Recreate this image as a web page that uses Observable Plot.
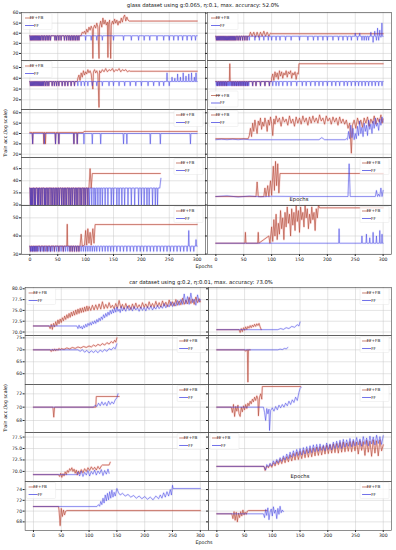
<!DOCTYPE html>
<html><head><meta charset="utf-8">
<script src="https://cdn.jsdelivr.net/npm/d3@7"></script>
<script src="https://cdn.jsdelivr.net/npm/@observablehq/plot@0.6"></script>
<style>
body{margin:0;background:#fff;}
#root{position:relative;width:396px;height:550px;overflow:hidden;font-family:"DejaVu Sans",sans-serif;background:#fff;}
.lbl{position:absolute;color:#111;white-space:nowrap;transform:translate(-50%,-50%);line-height:1;}
</style></head><body><div id="root"></div>
<script>
// ---------- text ----------
const glassTitle = "glass dataset using g:0.065, η:0.1, max. accuracy: 52.0%";
const carTitle = "car dataset using g:0.2, η:0.01, max. accuracy: 73.0%";
const yAxisLabel = "Train acc.(log scale)";
const xAxisLabel = "Epochs";
const seriesNames = ["FF+FB", "FF"];
const epochTicks = [0, 50, 100, 150, 200, 250, 300];

// ---------- y ticks ----------
const glassYTicks1 = [20, 30, 40, 50, 60];
const glassYTicks2 = [20, 30, 40, 50];
const glassYTicks3 = [20, 30, 40, 50, 60];
const glassYTicks4 = [30, 35, 40, 45];
const glassYTicks5 = [30, 40, 50];
const carYTicks1 = [70, 72.5, 75, 77.5, 80];
const carYTicks2 = [60, 65, 70, 75];
const carYTicks3 = [68, 70, 72];
const carYTicks4 = [70, 72.5, 75, 77.5];
const carYTicks5 = [68, 70, 72, 74];

// ---------- glass data (spike lists: epoch,value ; point lists: epoch,value) ----------
const g1L_ff_spk = [1,33,3,33,5,33,7,33,9,33,11,33,13,33,15,33,17,33,19,33,22,33,25,33,28,33,31,33,34,33,37,33,45,33,48,33,52,33,56,33,62,33,66,33,70,33,73,33,76,33,79,33,82,33,85,33,88,33,100,33,110,33,120,33,130,33,150,33,168,33,182,33,195,33,205,33,215,33,228,33,240,33,250,33,258,33,266,33,274,33,282,33,290,33,297,33];
const g1L_ffb_pts = [92,38,94,41,96,40,98,42,100,39,102,44,104,41,106,46,108,43,110,47,112,44,113,15,114,45,116,48,118,45,120,50,122,46,124,15,125,47,127,52,129,46,131,55,133,49,135,53,137,48,139,51,140,16,141,49,143,53,145,15,146,48,148,52,150,49,152,54,154,50,156,53,158,48,160,52,162,50,164,55,166,51,168,56,170,58,172,52,174,56,176,53,178,52,300,52];

const g1R_ff_spk = [1,33,3,33,5,33,7,33,9,33,11,33,13,33,15,33,17,33,19,33,21,33,23,33,25,33,27,33,29,33,31,33,33,33,35,33,38,33,41,33,44,33,48,33,52,33,56,33,60,33,70,33,78,33,86,33,94,33,100,33,108,33,115,33,125,33,135,33,150,33,165,33,175,33,183,33,192,33,200,33,210,33,220,33,228,33,236,33,243,33,250,40,254,33,258,40,262,33,266,33,270,33,274,33,278,41,282,31,285,42,288,33,290,45,292,33,294,43,296,36,297.8,50];
const g1R_ffb_pts = [60,37,62,41,65,37,68,41,71,36,74,41,77,36,80,41,83,37,86,42,89,37,92,41,95,37,98,40,100,39.5,300,39.5];

const g2L_ff_spk = [1,33,3,33,5,33,7,33,9,33,11,33,13,33,15,33,17,33,19,33,21,33,23,33,25,33,28,33,31,33,34,33,40,33,44,33,48,33,52,33,58,33,63,33,68,33,74,33,80,33,86,33,92,33,98,33,104,33,112,33,120,33,130,33,142,33,150,33,160,33,170,33,180,33,190,33,200,33,212,33,222,33,232,33,240,33,246,45,250,33,255,41,260,40,265,44,270,41,275,45,280,42,285,44,290,45,295,41,298,45];
const g2L_ffb_pts = [85,37,86,40,88,43,90,38,92,45,94,41,96,47,98,43,100,46,102,44,104,48,106,45,108,47,110,44,113,30,114,46,116,48,118,45,120,47,122,44,124,13,125,47,127,45,130,48,133,46,136,49,139,46,142,48,145,47,148,49,151,46,154,48,157,47,160,49,163,46,166,48,169,47,172,48,175,46,178,47,180,46.5,300,46.5];

const g2R_ff_spk = [1,33,3,33,5,33,7,33,9,33,11,33,13,33,15,33,17,33,19,33,21,33,23,33,25,33,27,33,29,33,31,33,33,33,35,33,37,33,39,33,41,33,43,33,45,33,47,33,49,33,51,33,53,33,55,33,57,33,59,33,66,33,72,33,80,33,88,33,96,33,102,33,108,33,113,33,120,33,128,33,135,33,145,33,155,33,162,33,170,33,178,33,185,33,192,33,200,33,208,33,215,33,222,33,230,33,236,33,243,33,250,33,256,33,262,33,268,33,274,33,280,33,286,33,292,33,298,33];
const g2R_ffb_spk = [3,33,7,33,11,33,15,33,19,33,25,53.5,29,33,33,33,37,33,41,33,45,33,49,33,53,33,57,33,66,33,72,33,80,33,88,33,96,33];
const g2R_ffb_pts = [100,40,102,44,104,38,106,46,108,41,110,45,112,39,114,47,116,42,118,46,120,40,122,45,124,43,126,47,128,41,130,46,132,44,134,47,136,40,138,45,140,43,142,46,144,39,146,45,148,44,149,53.5,300,53.5];

const g3L_ff_spk = [5,30,26,30,46,30,52,30,79,30,85,30,97,30,112,30,127,30,168,30,174,30,216,30,234,30,288,30];
const g3L_ffb_spk = [5,30,25,30,28,30,46,30,52,30,79,30,85,30];
const g3L_ffb_pts = [96,41,97,42,300,42];

const g3R_ff_pts = [0,34,10,34.5,20,34,30,34.5,40,34,50,34.5,60,34,100,34,150,34,185,34,190,36,195,34,232,34,234,35,236,34,238,42,240,35,242,48,244,36,246,45,248,34,250,40,252,35,254,47,256,38,258,52,260,40,262,46,264,37,266,50,268,42,270,48,272,38,274,53,276,44,278,49,280,40,282,52,284,45,286,55,288,47,290,50,292,43,294,54,296,48,298,56,300,51];
const g3R_ffb_pts = [0,35,58,35,60,38,62,45,64,37,66,50,68,42,70,53,72,46,74,40,76,52,78,48,80,55,82,44,84,51,86,47,88,55,90,50,92,42,94,53,96,48,98,56,100,50,102,38,104,54,106,49,108,57,111,51,114,55,117,47,120,56,123,51,126,54,129,48,132,57,135,50,138,54,141,47,144,56,147,50,150,55,153,49,156,57,159,51,162,55,165,48,168,56,171,50,174,57,177,51,180,55,183,50,186,58,189,52,192,55,195,49,198,57,201,52,204,55,207,49,210,56,213,51,216,55,219,48,222,56,225,50,228,54,231,49,234,53,237,45,240,50,243,21,245,48,248,53,251,45,254,55,257,49,260,53,263,46,266,55,269,50,272,56,275,47,278,54,281,50,284,57,287,49,290,55,293,51,296,58,298,50,300,54];

const g4L_ff_spk = [1,30,3,30,5,30,8,30,10,30,14,30,16,30,19,30,22,30,26,30,28,30,31,30,34,30,38,30,41,30,44,30,47,30,50,30,53,30,57,30,60,30,63,30,66,30,70,30,73,30,76,30,80,30,83,30,86,30,90,30,93,30,97,30,100,30,104,30,107,30,111,30,115,30,118,30,122,30,126,30,130,30,135,30,140,30,146,30,150,30,156,30,160,30,165,30,170,30,176,30,182,30,188,30,195,30,200,30,205,30,210,30,214,30,220,30,225,30,229,30];
const g4L_ff_end = [233,37,235,41];
const g4L_ffb_pts = [106,37,108,45,110,37,112,43,234,43];

const g4R_ff_pts = [0,33.5,20,33.8,40,33.3,60,33.7,80,33.4,100,33.6,150,33.5,237,33.5,239,47,241,33.5,286,33.5,288,36,290,33.5,292,34.5,294,33.5,296,37,298,33.5,300,36];
const g4R_ffb_pts = [0,33.5,72,33.5,74,39.5,76,33.5,86,33.5,88,37,90,33.5,93,38,95,33.5,98,40,100,34,103,46,105,36,107,48,109,38,111,47,113,35,115,43,300,43];

const g5L_ff_spk = [1,31.5,3,31.5,5,31.5,7,31.5,9,31.5,11,31.5,13,31.5,16,31.5,19,31.5,22,31.5,25,31.5,28,31.5,31,31.5,34,31.5,37,31.5,40,31.5,44,31.5,48,31.5,52,31.5,56,31.5,60,31.5,64,31.5,68,31.5,72,31.5,76,31.5,80,31.5,84,31.5,88,31.5,92,31.5,96,31.5,100,31.5,104,31.5,108,31.5,112,31.5,116,31.5,120,31.5,125,31.5,130,31.5,135,31.5,140,31.5,145,31.5,150,31.5,156,31.5,162,31.5,168,31.5,174,31.5,180,31.5,186,31.5,192,31.5,198,31.5,204,31.5,210,31.5,216,31.5,222,31.5,228,31.5,234,31.5,240,31.5,246,31.5,252,31.5,258,31.5,264,31.5,270,31.5,276,31.5,282,31.5,285,43,288,31.5,294,31.5,298,38];
const g5L_ffb_spk = [1,31.5,5,31.5,9,31.5,13,31.5,19,31.5,25,31.5,31,31.5,37,31.5,44,31.5,52,31.5,60,31.5,67,46.5,72,31.5,76,31.5,80,31.5,84,31.5,88,31.5];
const g5L_ffb_pts = [90,34.4,92,41,94,34.4,98,35,100,43,102,35,104,44,106,36,108,42,110,35,113,44,115,36,117,46.3,300,46.3];

const g5R_ff_spk = [221,44,262,40,270,41,276,39,282,42,288,40,294,43,298,41];
const g5R_ffb_pts = [0,36,52,36,53,42,54,36,75,36,76,42,77,36,95,40,97,36,100,45,102,37,104,49,106,40,108,52,110,38,112,47,114,41,116,54,118,44,120,50,122,38,124,53,126,45,128,56,130,47,132,52,134,40,136,55,138,46,140,53,142,43,144,57,146,48,148,54,150,42,152,56,154,49,156,53,158,45,160,57,162,50,164,55,166,44,168,52,170,47,172,56,174,49,176,53,178,43,180,55,182,50,184,57,186,55.5,300,55.5];

// ---------- car data ----------
const c1L_ffb = [0,71.4,28,71.4,30,70.8,32,71.8,34,70.6,36,72.0,38,71.2,40,72.4,42,71.5,44,72.8,46,71.9,48,73.0,50,72.2,52,73.3,54,72.6,56,73.7,58,72.9,60,74.0,62,73.2,64,74.3,66,73.4,68,74.6,70,73.7,72,74.8,74,73.9,76,75.1,78,74.1,80,75.3,82,74.3,84,75.5,86,74.5,88,75.6,90,74.6,92,75.8,94,74.8,96,76.0,98,74.9,100,75.9,103,75.0,106,76.2,109,75.1,112,76.3,115,75.2,118,76.5,121,75.3,124,77.0,127,75.4,130,76.4,133,75.5,136,76.8,139,75.6,142,76.2,145,75.4,148,76.6,151,75.5,154,77.3,157,75.6,160,76.4,163,75.3,166,76.6,169,75.5,172,76.2,175,75.2,178,76.5,181,75.4,184,76.7,187,75.6,190,76.3,193,75.5,196,76.8,199,75.7,202,76.5,205,75.6,208,77.0,211,75.8,214,76.6,217,75.7,220,77.1,223,75.9,226,76.8,229,75.8,232,77.2,235,76.0,238,76.9,241,75.9,244,77.4,247,76.1,250,77.0,253,76.0,256,77.5,259,76.2,262,77.2,265,76.3,268,77.8,271,76.4,274,77.4,277,76.5,280,78.0,283,76.6,286,77.6,289,76.4,292,78.1,295,76.8,298,77.7,300,77.0];
const c1L_ff = [0,71.4,78,71.4,80,70.8,82,71.6,84,70.9,86,71.3,88,70.7,90,71.5,92,71.0,94,71.8,96,71.2,98,72.0,100,71.5,102,72.2,104,71.6,106,72.4,108,71.9,110,72.6,112,72.0,114,72.9,116,72.3,118,73.2,120,72.6,122,73.5,124,72.9,126,74.0,128,73.3,130,74.3,132,73.6,134,74.6,136,73.9,138,75.0,140,74.2,142,75.2,144,74.4,146,75.5,148,74.6,150,75.8,152,74.8,154,75.3,156,74.5,158,75.9,160,74.9,163,75.6,166,74.8,169,76.0,172,75.0,175,75.7,178,74.9,181,75.9,184,75.1,187,75.6,190,74.8,193,75.8,196,75.0,199,75.7,202,74.9,205,75.9,208,75.2,211,76.0,214,75.1,217,75.8,220,75.3,223,76.2,226,75.4,229,76.0,232,75.5,235,76.6,238,75.6,241,76.3,244,75.8,247,77.0,250,75.9,253,76.8,256,76.0,259,77.3,262,76.2,265,77.5,268,76.4,271,78.8,274,76.5,277,78.2,280,76.4,283,79.0,286,76.8,289,77.6,292,76.2,295,78.6,298,76.9,300,77.5];
const c1R_ffb = [0,70.55,40,70.55,42,69.9,44,70.8,46,70.1,48,71.0,50,70.4,52,71.2,54,70.6,56,71.3,58,70.9,60,71.5,62,71.0,64,71.6,66,71.2,68,71.8,70,71.3,72,71.9,74,71.5,76,72.0,78,71.2,80,70.55];
const c1R_ff = [0,70.55,110,70.55,115,70.8,120,70.6,125,71.0,130,70.8,135,71.3,140,71.1,145,71.7,148,71.4,150,72.3];
const c2L_ffb = [0,70,30,70,32,69.3,34,70.2,36,69.5,38,70.4,40,69.6,42,70.3,44,69.8,46,70.6,48,70.0,50,70.5,55,70.2,60,70.8,65,70.4,70,71.0,75,70.6,80,71.2,85,70.8,90,71.4,95,71.0,100,71.6,104,71.2,108,72.0,112,71.5,116,72.3,120,71.8,124,72.6,128,72.0,132,73.0,136,72.4,140,73.5,143,72.8,146,74.0,148,73.2,150,75.0];
const c2L_ff = [0,70,80,70,84,69.4,88,70.1,92,69.0,96,69.8,100,68.7,104,69.6,108,68.9,112,69.7,116,68.8,120,69.9,124,69.2,128,70.1,132,69.4,136,70.5,140,70.0,144,71.0,147,70.4,150,72.5];
const c2R_ffb = [0,70,50,70,52,69.4,54,70,55,70,56,56.5,57,70,60,70];
const c2R_ff = [0,70,110,70,114,70.3,118,70.1,122,70.6,125,70.4,128,71.0];
const c3L_ffb = [0,70,35,70,36.5,68.5,38,70,112,70,113,71.6,154,71.6];
const c3L_ff = [0,70,108,70,111,70.3,114,70.1,117,70.6,120,70.2,123,70.8,126,70.3,129,70.7,132,70.2,135,70.9,138,70.4,141,70.8,144,70.5,147,71.1,150,71.4,152,72.0];
const c3R_ffb = [0,70,26,70,28,69.2,30,70.4,32,68.6,34,70.1,36,69.4,38,70.3,40,69.0,42,68.6,44,70.0,46,69.3,48,70.2,50,69.6,52,70.4,54,69.8,56,70.6,58,70.2,60,70.9,62,70.5,64,71.2,66,70.8,68,71.5,70,71.0,72,71.7,74,71.2,75,68.7,77,71.5,79,72.0,81,71.2,82,73.1,151,73.1];
const c3R_ff = [0,70,84,70,86,69.2,88,68.0,90,69.8,92,69.0,94,69.7,95,66.5,97,69.5,100,69.9,103,69.4,106,70.1,109,69.6,112,70.3,115,69.9,118,70.4,121,70.0,124,70.6,127,70.2,130,70.9,133,70.4,136,71.1,139,70.7,142,71.5,145,71.0,148,72.2,150,72.8,152,73.0];
const c4L_ffb = [0,69.3,45,69.3,47,68.9,49,69.6,51,68.7,53,69.5,55,69.0,57,69.9,59,69.3,61,70.2,63,69.8,65,70.6,67,70.2,69,70.8,71,70.0,73,70.5,75,69.6,77,70.3,79,69.2,81,70.1,83,69.5,86,70.4,89,69.7,92,70.6,95,70.0,98,70.8,101,70.2,104,71.0,107,70.4,110,70.9,113,70.3,116,71.1,119,70.5,122,71.2,124,71.4,136,71.4,138,72.0];
const c4L_ff = [0,69.3,78,69.3,80,69.9,83,69.0,86,70.1,89,68.9,92,69.8,95,69.2,98,70.2,101,69.0,104,70.0,107,69.4,110,70.3,113,69.2,116,70.1,119,69.5,122,70.4,125,69.1,128,70.2,131,69.4,134,70.5,136,69.6];
const c4R_ffb = [0,71.1,85,71.1,87,70.2,90,71.2,93,70.8,96,71.5,99,70.9,102,71.9,105,71.2,108,72.3,111,71.5,114,72.6,117,71.7,120,73.0,123,71.9,126,73.2,129,72.1,132,73.6,135,72.3,138,73.9,141,72.5,144,74.2,147,72.6,150,74.4,153,72.8,156,74.6,159,73.0,162,74.8,165,73.1,168,75.0,171,73.2,174,75.1,177,73.4,180,75.3,183,73.5,186,75.4,189,73.6,192,75.5,195,73.8,198,75.7,201,73.9,204,75.8,207,74.0,210,76.0,213,74.1,216,76.1,219,74.0,222,76.3,225,74.2,228,76.4,231,74.3,234,76.2,237,74.4,240,76.5,243,74.3,246,76.6,249,74.5,252,76.4,255,73.8,258,76.7,261,74.6,264,76.5,267,73.5,270,76.8,273,74.2,276,76.6,279,73.3,282,76.9,285,74.0,288,76.7,291,73.4,294,76.9,297,74.5,300,75.8];
const c4R_ff = [0,71.1,85,71.1,88,70.3,90,71.5,93,71.0,96,71.8,99,71.2,102,72.3,105,71.6,108,72.6,111,71.9,114,73.0,117,72.2,120,73.4,123,72.5,126,73.8,129,72.8,132,74.2,135,73.1,138,74.5,141,73.3,144,74.8,147,73.5,150,75.0,153,73.6,156,75.2,159,73.8,162,75.4,165,74.0,168,75.6,171,74.1,174,75.8,177,74.3,180,75.9,183,74.4,186,76.0,189,74.6,192,75.8,195,74.5,198,76.2,201,74.8,204,76.0,207,74.7,210,76.4,213,75.0,216,76.6,219,75.2,222,76.8,225,75.0,228,77.0,231,75.3,234,76.9,237,75.5,240,77.2,243,75.4,246,77.0,249,75.6,252,77.4,255,75.8,258,77.1,261,75.5,264,77.6,267,75.9,270,77.3,273,75.6,276,77.7,279,76.0,282,77.5,285,75.8,288,77.9,291,76.1,294,77.6,297,75.9,300,77.8];
const c5L_ffb = [0,70.85,45,70.85,46,70.2,48,67.3,50,70.5,52,69.0,54,70.2,56,69.3,58,70.0,60,70.1,300,70.1];
const c5L_ff = [0,70.85,114,70.85,117,71.2,119,70.9,121,71.8,123,71.2,125,72.4,127,71.5,129,73.0,131,71.9,133,73.3,135,72.1,137,73.6,139,72.4,141,73.9,143,72.6,145,73.5,147,72.8,150,74.2,153,73.4,156,73.0,160,73.3,165,72.8,170,73.1,175,72.6,180,72.9,185,72.4,190,72.8,195,72.3,200,72.7,205,72.2,210,72.6,215,72.1,220,72.8,225,72.3,228,73.0,231,72.4,234,73.4,237,72.6,240,73.6,243,72.8,246,74.0,248,73.0,250,74.8,251,74.2,300,74.2];
const c5R_ffb = [0,69.5,27,69.5,29,68.6,31,69.9,33,68.3,35,69.8,37,68.0,39,69.6,41,68.8,43,69.9,45,69.1,47,70.2,49,69.3,51,69.8,53,69.4,55,70.0,57,70.1,90,70.1];
const c5R_ff = [0,69.5,84,69.5,86,68.8,88,70.3,90,69.2,92,70.6,94,68.4,96,69.8,98,70.4,100,69.1,102,70.8,104,69.6,106,70.2,108,68.6,110,70.5,112,69.4,114,70.9,116,69.7,118,70.2,120,69.9];

// ---------- builders ----------
function pairs(a) { const p = []; for (let i = 0; i < a.length; i += 2) p.push({x: a[i], y: a[i + 1]}); return p; }
function spiky(base, start, end, spk) {
  const p = [{x: start, y: base}];
  for (let i = 0; i < spk.length; i += 2) {
    const e = spk[i], v = spk[i + 1];
    if (e <= start || e >= end) continue;
    p.push({x: e - 0.8, y: base}, {x: e, y: v}, {x: e + 0.8, y: base});
  }
  p.push({x: end, y: base});
  return p;
}

const int = d => String(d);
const one = d3.format(".1f");

const glassPanels = [
  [{ffb: spiky(37.5,0,92,g1L_ff_spk).concat(pairs(g1L_ffb_pts)), ff: spiky(37.5,0,300,g1L_ff_spk), leg:"ul"},
   {ffb: spiky(37,0,60,g1R_ff_spk).concat(pairs(g1R_ffb_pts)), ff: spiky(37,0,300,g1R_ff_spk), leg:"ul"}],
  [{ffb: spiky(37,0,85,g2L_ff_spk).concat(pairs(g2L_ffb_pts)), ff: spiky(37,0,300,g2L_ff_spk), leg:"ul"},
   {ffb: spiky(37,0,100,g2R_ffb_spk).concat(pairs(g2R_ffb_pts)), ff: spiky(37,0,300,g2R_ff_spk), leg:"ll"}],
  [{ffb: spiky(41,0,96,g3L_ffb_spk).concat(pairs(g3L_ffb_pts)), ff: spiky(40,0,300,g3L_ff_spk), leg:"ur"},
   {ffb: pairs(g3R_ffb_pts), ff: pairs(g3R_ff_pts), leg:"ul"}],
  [{ffb: spiky(37,0,106,g4L_ff_spk).concat(pairs(g4L_ffb_pts)), ff: spiky(37,0,233,g4L_ff_spk).concat(pairs(g4L_ff_end)), leg:"ur"},
   {ffb: pairs(g4R_ffb_pts), ff: pairs(g4R_ff_pts), leg:"ur"}],
  [{ffb: spiky(34.4,0,90,g5L_ffb_spk).concat(pairs(g5L_ffb_pts)), ff: spiky(34.4,0,300,g5L_ff_spk), leg:"ur"},
   {ffb: pairs(g5R_ffb_pts), ff: spiky(36,0,300,g5R_ff_spk), leg:"ur"}]
];
const carPanels = [
  [{ffb: pairs(c1L_ffb), ff: pairs(c1L_ff), leg:"ul"}, {ffb: pairs(c1R_ffb), ff: pairs(c1R_ff), leg:"ur"}],
  [{ffb: pairs(c2L_ffb), ff: pairs(c2L_ff), leg:"ur"}, {ffb: pairs(c2R_ffb), ff: pairs(c2R_ff), leg:"ur"}],
  [{ffb: pairs(c3L_ffb), ff: pairs(c3L_ff), leg:"ur"}, {ffb: pairs(c3R_ffb), ff: pairs(c3R_ff), leg:"ur"}],
  [{ffb: pairs(c4L_ffb), ff: pairs(c4L_ff), leg:"ur"}, {ffb: pairs(c4R_ffb), ff: pairs(c4R_ff), leg:"ul"}],
  [{ffb: pairs(c5L_ffb), ff: pairs(c5L_ff), leg:"ul"}, {ffb: pairs(c5R_ffb), ff: pairs(c5R_ff), leg:"ur"}]
];

const groups = [
  {panels: glassPanels, cols: [[21, 205], [206.5, 390.5]], rows: [12, 60, 109, 157, 205, 254],
   ydoms: [[13, 60.5], [11, 56.5], [16.8, 63.2], [29.8, 49.6], [29.8, 56.8]],
   yticks: [glassYTicks1, glassYTicks2, glassYTicks3, glassYTicks4, glassYTicks5],
   fmts: [int, int, int, int, int]},
  {panels: carPanels, cols: [[24.6, 208.2], [208.2, 391.3]], rows: [287, 335, 384, 432, 481, 530],
   ydoms: [[69.2, 80.3], [55.5, 76], [66.2, 73.4], [67.8, 78.5], [66.4, 75.5]],
   yticks: [carYTicks1, carYTicks2, carYTicks3, carYTicks4, carYTicks5],
   fmts: [one, int, int, one, int]}
];

const root = document.getElementById("root");
const C_FFB = "#b24e3a", C_FFB_HALO = "#ff5050", C_FF = "#3434e0", C_FF_HALO = "#8080ff";

function legend(svg, anchor, ml, mt, W, H) {
  const bw = 29, bh = 16;
  const bx = anchor === "ur" ? ml + W - bw - 2 : ml + 2;
  const by = anchor === "ll" ? mt + H - bh - 2 : mt + 1.5;
  const g = d3.select(svg).append("g");
  g.append("rect").attr("x", bx).attr("y", by).attr("width", bw).attr("height", bh).attr("rx", 1)
    .attr("fill", "white").attr("fill-opacity", 0.75).attr("stroke", "#e0e0e0").attr("stroke-width", 0.4);
  [[seriesNames[0], C_FFB], [seriesNames[1], C_FF]].forEach(([name, c], i) => {
    const yy = by + 4.5 + i * 7.5;
    g.append("line").attr("x1", bx + 2).attr("x2", bx + 11).attr("y1", yy).attr("y2", yy)
      .attr("stroke", c).attr("stroke-width", 0.7);
    g.append("text").attr("x", bx + 13.5).attr("y", yy).attr("dy", "0.35em").attr("font-size", 4.2)
      .attr("fill", "#222").attr("font-family", "DejaVu Sans").text(name);
  });
}

groups.forEach(G => {
  G.panels.forEach((row, r) => {
    row.forEach((p, c) => {
      const [fx0, fx1] = G.cols[c];
      const fy0 = G.rows[r], fy1 = G.rows[r + 1];
      const W = fx1 - fx0, H = fy1 - fy0;
      const last = r === 4;
      const ml = c === 0 ? fx0 : 3, mr = 1, mt = 1, mb = last ? 12 : 1;
      const marks = [
        Plot.gridX(epochTicks, {stroke: "#c8c8c8", strokeOpacity: 1, strokeWidth: 0.5}),
        Plot.gridY(G.yticks[r], {stroke: "#c8c8c8", strokeOpacity: 1, strokeWidth: 0.5}),
        Plot.line(p.ffb, {x: "x", y: "y", stroke: C_FFB_HALO, strokeOpacity: 0.18, strokeWidth: 2, clip: true}),
        Plot.line(p.ff, {x: "x", y: "y", stroke: C_FF_HALO, strokeOpacity: 0.14, strokeWidth: 2, clip: true}),
        Plot.line(p.ffb, {x: "x", y: "y", stroke: C_FFB, strokeWidth: 0.65, clip: true}),
        Plot.line(p.ff, {x: "x", y: "y", stroke: C_FF, strokeOpacity: 0.8, strokeWidth: 0.6, clip: true}),
        Plot.axisY(G.yticks[r], {anchor: "left", tickSize: 2, tickPadding: 1, label: null, fontSize: 4.6,
          tickFormat: c === 0 ? G.fmts[r] : () => ""})
      ];
      if (last) marks.push(Plot.axisX(epochTicks, {anchor: "bottom", tickSize: 2, tickPadding: 1, label: null, fontSize: 4.6}));
      marks.push(Plot.frame({stroke: "#444", strokeWidth: 0.6}));
      const svg = Plot.plot({
        width: W + ml + mr, height: H + mt + mb,
        marginLeft: ml, marginRight: mr, marginTop: mt, marginBottom: mb,
        x: {domain: [-15, 315], axis: null}, y: {domain: G.ydoms[r], axis: null},
        style: {background: "transparent", fontFamily: "DejaVu Sans", fontSize: "4.6px", color: "#222", overflow: "visible"},
        marks
      });
      legend(svg, p.leg, ml, mt, W, H);
      svg.style.position = "absolute";
      svg.style.left = (fx0 - ml) + "px";
      svg.style.top = (fy0 - mt) + "px";
      svg.style.overflow = "visible";
      root.appendChild(svg);
    });
  });
});

function addText(txt, x, y, size, rot) {
  const d = document.createElement("div");
  d.className = "lbl";
  d.textContent = txt;
  d.style.left = x + "px"; d.style.top = y + "px"; d.style.fontSize = size + "px";
  if (rot) d.style.transform = "translate(-50%,-50%) rotate(-90deg)";
  root.appendChild(d);
}
addText(glassTitle, 203, 6, 5.3);
addText(carTitle, 201, 283, 5.3);
addText(yAxisLabel, 6, 133, 4.8, true);
addText(yAxisLabel, 6, 408, 4.8, true);
addText(xAxisLabel, 204, 267, 4.8);
addText(xAxisLabel, 204, 543, 4.8);
addText(xAxisLabel, 299, 200, 5.3);
addText(xAxisLabel, 300, 477, 5.3);
</script></body></html>
